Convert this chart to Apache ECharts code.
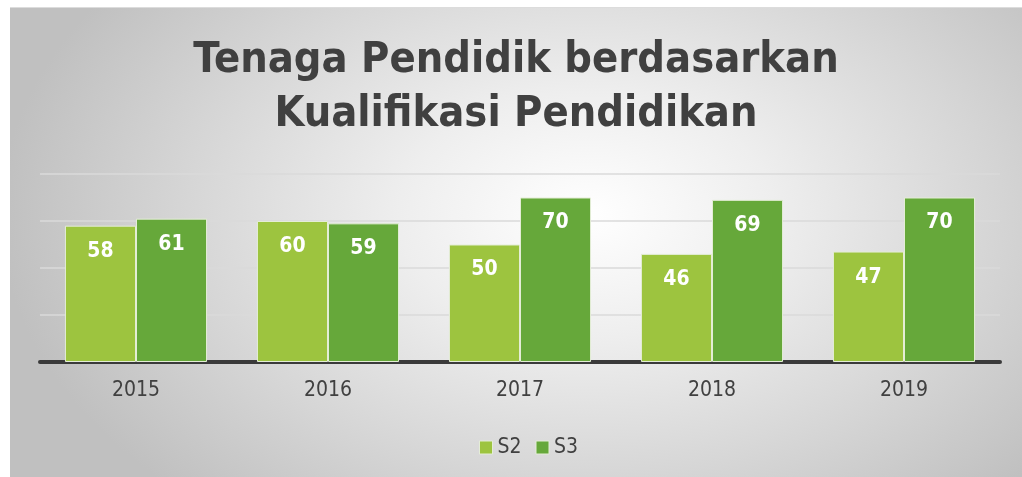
<!DOCTYPE html>
<html lang="en">
<head>
    <meta charset="UTF-8">
    <title>Tenaga Pendidik berdasarkan Kualifikasi Pendidikan</title>
    <script src="https://cdn.jsdelivr.net/npm/echarts@6/dist/echarts.min.js"></script>
    <style>
        html, body { margin: 0; padding: 0; background: #fff; }
        #chart {
            position: absolute; left: 10px; top: 7px; width: 1012px; height: 470px;
            border-top: 1px solid #dcdcdc;
            background: radial-gradient(ellipse 58% 82% at 57% 44%, #ffffff 0%, #eeeeee 32%, #d6d6d6 68%, #c0c0c0 100%);
        }
    </style>
</head>
<body>
<div id="chart"></div>
<script>
    var years = ['2015', '2016', '2017', '2018', '2019'];
    var s2 = [58, 60, 50, 46, 47];
    var s3 = [61, 59, 70, 69, 70];

    var font = 'DejaVu Sans Condensed, DejaVu Sans, sans-serif';

    var myChart = echarts.init(document.getElementById('chart'));

    function barSeries(name, data, color) {
        return {
            name: name,
            type: 'bar',
            data: data,
            barGap: '0%',
            barCategoryGap: '26%',
            itemStyle: {
                color: color,
                borderColor: '#e4edd6',
                borderWidth: 1
            },
            label: {
                show: true,
                position: 'insideTop',
                distance: 15,
                color: '#fff',
                fontSize: 21,
                fontWeight: 'bold',
                fontFamily: font
            }
        };
    }

    var option = {
        title: {
            text: 'Tenaga Pendidik berdasarkan\nKualifikasi Pendidikan',
            left: 'center',
            top: 21,
            textStyle: {
                color: '#404040',
                fontSize: 43,
                fontWeight: 'bold',
                lineHeight: 54,
                fontFamily: font
            }
        },
        legend: {
            data: ['S2', 'S3'],
            left: 464,
            top: 424,
            icon: 'rect',
            itemWidth: 13,
            itemHeight: 13,
            itemGap: 14,
            itemStyle: {borderColor: '#e4edd6', borderWidth: 1},
            textStyle: {color: '#404040', fontSize: 21, fontFamily: font}
        },
        grid: {
            left: 30,
            right: 22,
            top: 166,
            bottom: 116
        },
        xAxis: {
            type: 'category',
            data: years,
            axisTick: {show: false},
            axisLine: {lineStyle: {color: '#3a3a3a', width: 4}},
            axisLabel: {color: '#404040', fontSize: 21, margin: 18, fontFamily: font}
        },
        yAxis: {
            type: 'value',
            min: 0,
            max: 80,
            interval: 20,
            axisLabel: {show: false},
            axisLine: {show: false},
            axisTick: {show: false},
            splitLine: {lineStyle: {color: '#dadada', width: 1.5}}
        },
        series: [
            barSeries('S2', s2, '#9dc43f'),
            barSeries('S3', s3, '#66a83a')
        ]
    };

    myChart.setOption(option);
</script>
</body>
</html>
